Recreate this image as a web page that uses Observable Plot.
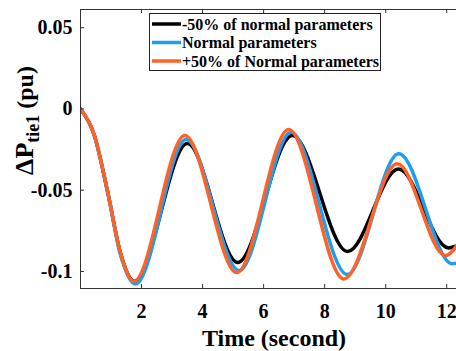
<!DOCTYPE html>
<html><head><meta charset="utf-8">
<script src="https://cdn.jsdelivr.net/npm/d3@7"></script>
<script src="https://cdn.jsdelivr.net/npm/@observablehq/plot@0.6"></script>
<style>
body{margin:0;background:#fff;}
#chart{width:456px;height:351px;}
</style></head><body><div id="chart"></div>
<script>
const seriesNames = ["-50% of normal parameters", "Normal parameters", "+50% of Normal parameters"];
const seriesColors = ["#000000", "#1E9EF0", "#FF6226"];
const tLow  = [0, 0.45, 0.9, 1.3, 1.77, 3.5, 5.15, 6.94, 8.75, 10.42, 12.06, 12.4];
const vLow  = [0, -0.016, -0.052, -0.088, -0.106, -0.0213, -0.0945, -0.0164, -0.0877, -0.0369, -0.0855, -0.0838];
const tNorm = [0, 0.45, 0.9, 1.3, 1.8, 3.46, 5.2, 6.9, 8.74, 10.43, 12.18, 12.4];
const vNorm = [0, -0.016, -0.052, -0.089, -0.1078, -0.0188, -0.0994, -0.0143, -0.1019, -0.0276, -0.0953, -0.0945];
const tHigh = [0, 0.45, 0.9, 1.3, 1.75, 3.42, 5.12, 6.82, 8.63, 10.38, 11.96, 12.4];
const vHigh = [0, -0.016, -0.052, -0.088, -0.106, -0.0164, -0.1007, -0.0127, -0.1046, -0.0338, -0.0902, -0.082];
const xTicks = [2, 4, 6, 8, 10, 12];
const yTicks = [0.05, 0, -0.05, -0.1];
const xDomain = [0, 12.32];
const yDomain = [-0.1105, 0.0612];
const xLabel = "Time (second)";

const rows = [];
[[tLow, vLow], [tNorm, vNorm], [tHigh, vHigh]].forEach(([ts, vs], i) =>
  ts.forEach((t, j) => rows.push({t, v: vs[j], s: seriesNames[i]})));

const W = 456, H = 351, mL = 80, mR = 0, mT = 9, mB = 63;
const innerW = W - mL - mR, innerH = H - mT - mB;
const font = "'Liberation Serif','Times New Roman',serif";
const axisColor = "#333";

const plot = Plot.plot({
  width: W, height: H,
  marginLeft: mL, marginRight: mR, marginTop: mT, marginBottom: mB,
  style: {fontFamily: font, fontWeight: "bold", background: "#fff", color: "#000"},
  x: {domain: xDomain},
  y: {domain: yDomain},
  color: {domain: seriesNames, range: seriesColors},
  marks: [
    Plot.line(rows, {x: "t", y: "v", stroke: "s", z: "s", strokeWidth: 3.5, curve: "monotone-x", clip: true}),
    Plot.ruleX([xDomain[0]], {stroke: axisColor}),
    Plot.ruleY([yDomain[0]], {stroke: axisColor}),
    Plot.ruleY([yDomain[1]], {stroke: axisColor}),
    Plot.tickX(xTicks, {x: d => d, insetTop: innerH - 4, stroke: axisColor}),
    Plot.tickX(xTicks, {x: d => d, insetBottom: innerH - 4, stroke: axisColor}),
    Plot.tickY(yTicks, {y: d => d, insetRight: innerW - 4, stroke: axisColor}),
    Plot.axisX(xTicks, {tickSize: 0, tickPadding: 15, fontSize: 20, label: null, tickFormat: d => String(d)}),
    Plot.axisY(yTicks, {tickSize: 0, tickPadding: 8, fontSize: 20, label: null, tickFormat: d => String(d)})
  ]
});
document.getElementById("chart").appendChild(plot);

const svg = d3.select(plot);
svg.append("text")
  .attr("x", mL + innerW / 2 + 6).attr("y", H - 5)
  .attr("text-anchor", "middle").attr("font-size", 24).attr("font-weight", "bold")
  .attr("font-family", font).attr("fill", "#000")
  .text(xLabel);

const yl = svg.append("text")
  .attr("transform", `translate(33,${mT + innerH / 2 - 28}) rotate(-90)`)
  .attr("text-anchor", "middle").attr("font-size", 26).attr("font-weight", "bold")
  .attr("font-family", font).attr("fill", "#000");
yl.append("tspan").text("ΔP");
yl.append("tspan").attr("font-size", 18).attr("dy", 6).text("tie1");
yl.append("tspan").attr("dy", -6).attr("font-size", 24).text(" (pu)");

const lg = svg.append("g").attr("font-family", font).attr("text-anchor", "start");
lg.append("rect").attr("x", 149.5).attr("y", 13.5).attr("width", 231).attr("height", 57)
  .attr("fill", "#fff").attr("stroke", "#222");
seriesNames.forEach((n, i) => {
  const cy = 24 + 18.5 * i;
  lg.append("line").attr("x1", 152).attr("x2", 181).attr("y1", cy).attr("y2", cy)
    .attr("stroke", seriesColors[i]).attr("stroke-width", 3.5);
  lg.append("text").attr("x", 182).attr("y", cy + 5.5).attr("font-size", 16)
    .attr("text-anchor", "start")
    .attr("font-weight", "bold").attr("fill", "#000").text(n);
});
</script>
</body></html>
